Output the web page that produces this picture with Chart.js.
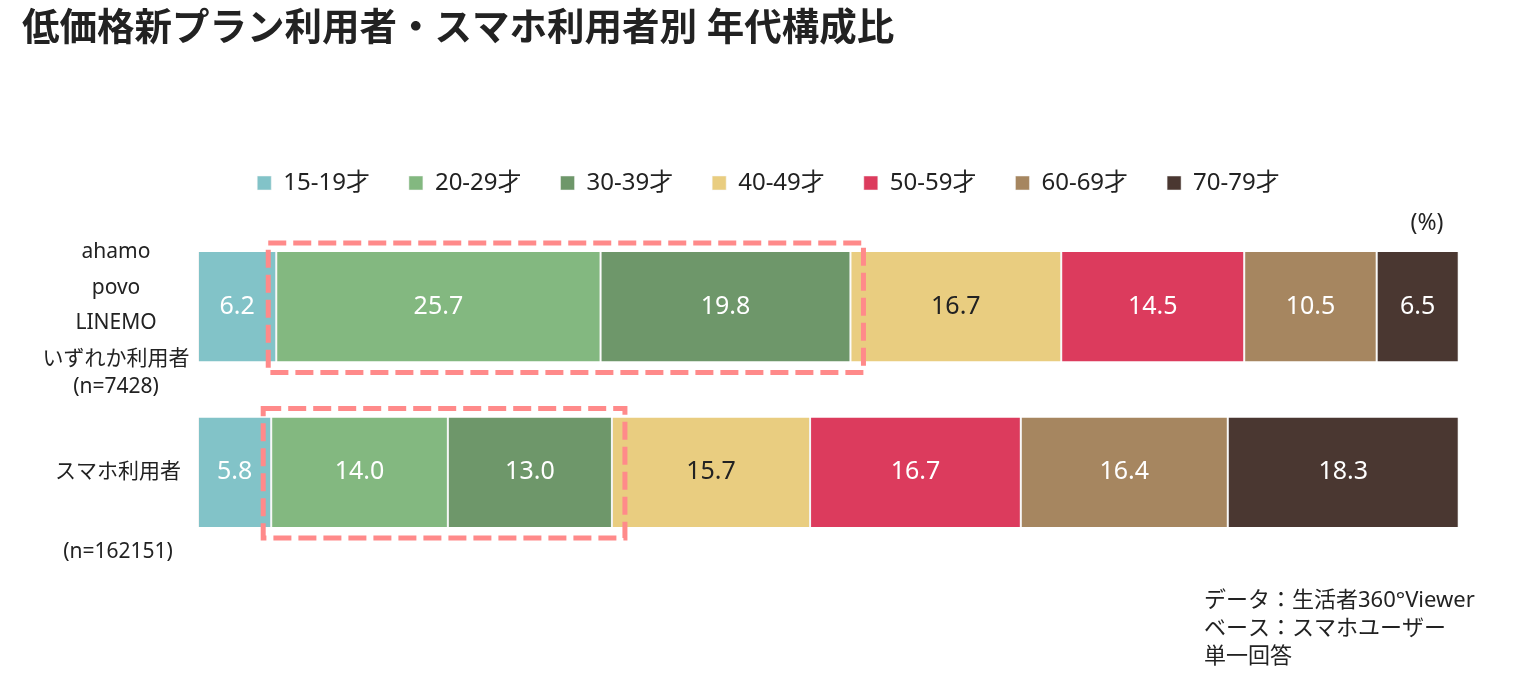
<!DOCTYPE html>
<html>
<head>
<meta charset="utf-8">
<script src="https://cdn.jsdelivr.net/npm/chart.js@4"></script>
<style>
  html, body { margin: 0; padding: 0; background: #fff; }
  #wrap { width: 1515px; height: 687px; position: relative; }
</style>
</head>
<body>
<div id="wrap"><canvas id="barChart"></canvas></div>
<script>
// カテゴリと系列データ
const categories = ['ahamo', 'smartphone'];
const categoryLines = [
    ['ahamo', 'povo', 'LINEMO', 'いずれか利用者', '(n=7428)'],
    ['スマホ利用者', '(n=162151)']
];
const ageGroups = ['15-19才', '20-29才', '30-39才', '40-49才', '50-59才', '60-69才', '70-79才'];
const ageColors = ['#82c3c8', '#83b880', '#6e976a', '#e9cd80', '#dc3b5d', '#a68660', '#4a3731'];
const labelColors = ['#fff', '#fff', '#fff', '#222', '#fff', '#fff', '#fff'];
const age15_19 = [6.2, 5.8];
const age20_29 = [25.7, 14.0];
const age30_39 = [19.8, 13.0];
const age40_49 = [16.7, 15.7];
const age50_59 = [14.5, 16.7];
const age60_69 = [10.5, 16.4];
const age70_79 = [6.5, 18.3];
const seriesValues = [age15_19, age20_29, age30_39, age40_49, age50_59, age60_69, age70_79];
const footnotes = ['データ：生活者360°Viewer', 'ベース：スマホユーザー', '単一回答'];

const JP = '"Noto Sans", "Noto Sans CJK JP", sans-serif';

// 凡例の下に余白を足す
const legendGap = {
    id: 'legendGap',
    beforeInit(chart) {
        const fit = chart.legend.fit;
        chart.legend.fit = function () {
            fit.bind(chart.legend)();
            this.height += 19;
        };
    }
};

// 棒の中の数値ラベル
const valueLabels = {
    id: 'valueLabels',
    afterDatasetsDraw(chart) {
        const ctx = chart.ctx;
        ctx.save();
        ctx.font = '25px ' + JP;
        ctx.textAlign = 'center';
        ctx.textBaseline = 'middle';
        chart.data.datasets.forEach((ds, i) => {
            const meta = chart.getDatasetMeta(i);
            meta.data.forEach((bar, j) => {
                const cx = (bar.x + bar.base) / 2;
                ctx.fillStyle = labelColors[i];
                ctx.fillText(ds.data[j].toFixed(1), cx, bar.y);
            });
        });
        ctx.restore();
    }
};

// 20-39才を囲む点線の枠
const dashedBoxes = {
    id: 'dashedBoxes',
    afterDatasetsDraw(chart) {
        const ctx = chart.ctx;
        const x = chart.scales.x;
        const first = chart.getDatasetMeta(0).data;
        ctx.save();
        ctx.strokeStyle = '#ff8a8a';
        ctx.lineWidth = 5;
        ctx.setLineDash([18, 7]);
        categories.forEach((c, j) => {
            const start = age15_19[j];
            const end = start + age20_29[j] + age30_39[j];
            const bar = first[j];
            const left = x.getPixelForValue(start) - 8;
            const right = x.getPixelForValue(end) + 13;
            const top = bar.y - bar.height / 2 - 9;
            const bottom = bar.y + bar.height / 2 + 11;
            ctx.strokeRect(left, top, right - left, bottom - top);
        });
        ctx.restore();
    }
};

// 左側のカテゴリ名、(%)、注記
const sideTexts = {
    id: 'sideTexts',
    afterDraw(chart) {
        const ctx = chart.ctx;
        const y = chart.scales.y;
        const area = chart.chartArea;
        ctx.save();
        ctx.fillStyle = '#222';
        ctx.font = '21px ' + JP;
        ctx.textAlign = 'center';
        ctx.textBaseline = 'middle';
        const c0 = y.getPixelForValue(0);
        const offs0 = [-55, -19, 16, 52, 80];
        categoryLines[0].forEach((t, k) => ctx.fillText(t, 116, c0 + offs0[k]));
        const c1 = y.getPixelForValue(1);
        const offs1 = [0, 80];
        categoryLines[1].forEach((t, k) => ctx.fillText(t, 118, c1 + offs1[k]));

        ctx.font = '23px ' + JP;
        ctx.fillText('(%)', 1427, area.top - 1);

        ctx.font = '22px ' + JP;
        ctx.textAlign = 'left';
        footnotes.forEach((t, k) => ctx.fillText(t, 1204, 601 + k * 28));
        ctx.restore();
    }
};

const ctx = document.getElementById('barChart').getContext('2d');
new Chart(ctx, {
    type: 'bar',
    data: {
        labels: categories,
        datasets: ageGroups.map((g, i) => ({
            label: g,
            data: seriesValues[i],
            backgroundColor: ageColors[i],
            borderColor: '#f4f4f4',
            borderWidth: { left: 1, right: 1, top: 0, bottom: 0 },
            borderSkipped: false,
            categoryPercentage: 1,
            barPercentage: 0.663
        }))
    },
    options: {
        indexAxis: 'y',
        responsive: true,
        maintainAspectRatio: false,
        animation: false,
        layout: {
            padding: { left: 22, right: 0, top: 0, bottom: 132 }
        },
        scales: {
            x: {
                stacked: true,
                min: 0,
                max: 100,
                display: false
            },
            y: {
                stacked: true,
                grid: { display: false },
                border: { display: false },
                ticks: { display: false },
                afterFit: function (scale) { scale.width = 176; }
            },
            y2: {
                position: 'right',
                grid: { display: false },
                border: { display: false },
                ticks: { display: false },
                afterFit: function (scale) { scale.width = 55; }
            }
        },
        plugins: {
            title: {
                display: true,
                text: '低価格新プラン利用者・スマホ利用者別 年代構成比',
                align: 'start',
                color: '#222',
                font: { family: JP, size: 37.5, weight: 'bold' },
                padding: { top: 7, bottom: 80 }
            },
            legend: {
                display: true,
                position: 'top',
                labels: {
                    color: '#222',
                    font: { family: JP, size: 24 },
                    boxWidth: 14,
                    boxHeight: 14,
                    padding: 39
                }
            },
            tooltip: { enabled: false }
        }
    },
    plugins: [legendGap, valueLabels, dashedBoxes, sideTexts]
});
</script>
</body>
</html>
